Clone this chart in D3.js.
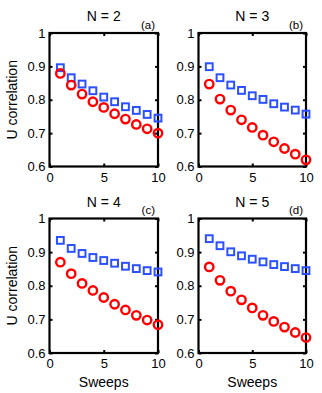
<!DOCTYPE html>
<html><head><meta charset="utf-8">
<script src="https://cdn.jsdelivr.net/npm/d3@7"></script>
<style>body{margin:0;background:#fff}svg{display:block}text{font-family:"Liberation Sans",Arial,sans-serif}</style>
</head><body><svg id="c" width="322" height="393"></svg>
<script>
const sweeps = [1,2,3,4,5,6,7,8,9,10];
const panelTitles = ["N = 2","N = 3","N = 4","N = 5"];
const panelLetters = ["(a)","(b)","(c)","(d)"];
const blueA = [0.896,0.866,0.847,0.827,0.808,0.794,0.779,0.768,0.756,0.745];
const redA  = [0.879,0.844,0.817,0.794,0.777,0.758,0.742,0.726,0.713,0.700];
const blueB = [0.899,0.866,0.844,0.828,0.812,0.801,0.788,0.778,0.769,0.757];
const redB  = [0.847,0.802,0.769,0.740,0.717,0.694,0.674,0.654,0.637,0.620];
const blueC = [0.935,0.911,0.896,0.884,0.875,0.867,0.858,0.851,0.845,0.841];
const redC  = [0.870,0.836,0.807,0.786,0.765,0.745,0.728,0.712,0.698,0.684];
const blueD = [0.940,0.919,0.901,0.889,0.879,0.871,0.863,0.857,0.851,0.845];
const redD  = [0.856,0.816,0.784,0.758,0.734,0.712,0.694,0.677,0.661,0.646];
const xTicks = [0,5,10];
const yTicks = [0.6,0.7,0.8,0.9,1];
const yLabel = "U correlation";
const xLabel = "Sweeps";

const blues = [blueA,blueB,blueC,blueD];
const reds = [redA,redB,redC,redD];
const boxes = [
  {x0:49.5,x1:158,y0:33,y1:166.5},
  {x0:198.5,x1:306,y0:33,y1:166.5},
  {x0:49.5,x1:158,y0:218.5,y1:353},
  {x0:198.5,x1:306,y0:218.5,y1:353}
];
const svg = d3.select("#c");
boxes.forEach((b,i)=>{
  const x = d3.scaleLinear().domain([0,10]).range([b.x0,b.x1]);
  const y = d3.scaleLinear().domain([0.6,1]).range([b.y1,b.y0]);
  const g = svg.append("g");
  const ax = g.append("g").attr("transform",`translate(0,${b.y1})`)
    .call(d3.axisBottom(x).tickValues(xTicks).tickFormat(d3.format("d")).tickSize(-3).tickPadding(6));
  const ay = g.append("g").attr("transform",`translate(${b.x0},0)`)
    .call(d3.axisLeft(y).tickValues(yTicks).tickFormat(d=>d===1?"1":d3.format(".1f")(d)).tickSize(-3).tickPadding(4));
  const at = g.append("g").attr("transform",`translate(0,${b.y0})`)
    .call(d3.axisTop(x).tickValues(xTicks).tickFormat("").tickSize(-3));
  const ar = g.append("g").attr("transform",`translate(${b.x1},0)`)
    .call(d3.axisRight(y).tickValues(yTicks).tickFormat("").tickSize(-3));
  [ax,ay,at,ar].forEach(a=>{
    a.select(".domain").remove();
    a.selectAll(".tick line").attr("stroke","#000").attr("stroke-width",2);
    a.selectAll(".tick text").attr("font-size",13).attr("fill","#000").attr("font-family","Liberation Sans, Arial, sans-serif");
  });
  g.append("rect").attr("x",b.x0).attr("y",b.y0).attr("width",b.x1-b.x0).attr("height",b.y1-b.y0)
    .attr("fill","none").attr("stroke","#000").attr("stroke-width",2.2);
  g.selectAll("rect.sq").data(blues[i]).join("rect").attr("class","sq")
    .attr("x",(d,j)=>x(sweeps[j])-3.4).attr("y",d=>y(d)-3.4).attr("width",6.8).attr("height",6.8)
    .attr("fill","none").attr("stroke","#2a50ff").attr("stroke-width",2);
  g.selectAll("circle.ci").data(reds[i]).join("circle").attr("class","ci")
    .attr("cx",(d,j)=>x(sweeps[j])).attr("cy",d=>y(d)).attr("r",4.2)
    .attr("fill","none").attr("stroke","#ff0000").attr("stroke-width",2.4);
  g.append("text").attr("x",(b.x0+b.x1)/2).attr("y",b.y0-12).attr("text-anchor","middle")
    .attr("font-size",14).text(panelTitles[i]);
  g.append("text").attr("x",b.x1-3).attr("y",b.y0-4.5).attr("text-anchor","end")
    .attr("font-size",11.5).text(panelLetters[i]);
  if(i%2===0){
    g.append("text").attr("transform",`translate(17,${(b.y0+b.y1)/2}) rotate(-90)`).attr("text-anchor","middle")
      .attr("font-size",14).text(yLabel);
  }
  if(i>=2){
    g.append("text").attr("x",(b.x0+b.x1)/2).attr("y",b.y1+34).attr("text-anchor","middle")
      .attr("font-size",14).text(xLabel);
  }
});
</script></body></html>
